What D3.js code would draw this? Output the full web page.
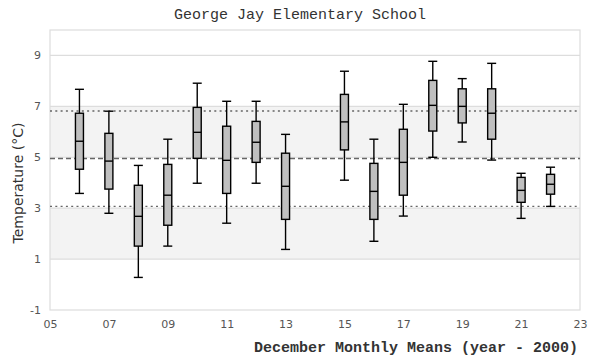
<!DOCTYPE html>
<html><head><meta charset="utf-8">
<script src="https://cdn.jsdelivr.net/npm/d3@7"></script>
<style>body{margin:0;background:#fff}</style>
</head><body><svg id="c" width="600" height="360"></svg>
<script>
const years    = [6, 7, 8, 9, 10, 11, 12, 13, 15, 16, 17, 18, 19, 20, 21, 22];
const whiskLow = [3.58, 2.80, 0.28, 1.51, 3.98, 2.41, 3.98, 1.38, 4.10, 1.70, 2.69, 5.00, 5.60, 4.89, 2.60, 3.07];
const q1       = [4.53, 3.75, 1.51, 2.33, 4.96, 3.58, 4.80, 2.56, 5.29, 2.56, 3.51, 6.03, 6.35, 5.71, 3.23, 3.55];
const medians  = [5.63, 4.85, 2.68, 3.51, 5.98, 4.88, 5.59, 3.86, 6.39, 3.66, 4.80, 7.04, 7.00, 6.73, 3.70, 3.94];
const q3       = [6.73, 5.94, 3.90, 4.72, 6.96, 6.22, 6.41, 5.16, 7.47, 4.76, 6.10, 8.02, 7.69, 7.69, 4.21, 4.33];
const whiskHigh= [7.67, 6.81, 4.68, 5.71, 7.91, 7.20, 7.20, 5.90, 8.38, 5.71, 7.08, 8.77, 8.09, 8.69, 4.37, 4.61];
const xTicks = [5, 7, 9, 11, 13, 15, 17, 19, 21, 23];
const yTicks = [-1, 1, 3, 5, 7, 9];
const bands = [[1, 3], [5, 7]];
const meanValue = 4.95;
const sdLines = [6.82, 3.07];

const svg = d3.select("#c");
const L = 50, R = 580, T = 30, B = 310;
const x = d3.scaleLinear().domain([5, 23]).range([L, R]);
const y = d3.scaleLinear().domain([-1, 10]).range([B, T]);

// bands
svg.append("g").selectAll("rect").data(bands).join("rect")
  .attr("x", L).attr("width", R - L)
  .attr("y", d => y(d[1])).attr("height", d => y(d[0]) - y(d[1]))
  .attr("fill", "#f3f3f3");

// grid
svg.append("g").selectAll("line").data(yTicks.filter(t => t > -1)).join("line")
  .attr("x1", L).attr("x2", R).attr("y1", d => y(d)).attr("y2", d => y(d))
  .attr("stroke", "#dddddd").attr("stroke-width", 1.2);

// border
svg.append("rect").attr("x", L).attr("y", T).attr("width", R - L).attr("height", B - T)
  .attr("fill", "none").attr("stroke", "#dddddd").attr("stroke-width", 1.2);

// reference lines
svg.append("line").attr("x1", L).attr("x2", R).attr("y1", y(meanValue)).attr("y2", y(meanValue))
  .attr("stroke", "#666").attr("stroke-width", 1.4).attr("stroke-dasharray", "5,3");
svg.append("g").selectAll("line").data(sdLines).join("line")
  .attr("x1", L).attr("x2", R).attr("y1", d => y(d)).attr("y2", d => y(d))
  .attr("stroke", "#666").attr("stroke-width", 1.4).attr("stroke-dasharray", "2,3.3");

// axes
const yAxis = d3.axisLeft(y).tickValues(yTicks).tickSize(0).tickPadding(9).tickFormat(d => String(d));
const gy = svg.append("g").attr("transform", `translate(${L},0)`).call(yAxis);
const xAxis = d3.axisBottom(x).tickValues(xTicks).tickSize(0).tickPadding(10).tickFormat(d => String(d).padStart(2, "0"));
const gx = svg.append("g").attr("transform", `translate(0,${B})`).call(xAxis);
[gx, gy].forEach(g => {
  g.select(".domain").remove();
  g.selectAll("text").attr("fill", "#555").attr("font-family", "DejaVu Sans, sans-serif").attr("font-size", 11);
});

// boxes
const data = years.map((yr, i) => ({yr, lo: whiskLow[i], q1: q1[i], med: medians[i], q3: q3[i], hi: whiskHigh[i]}));
const bw = 8, cw = 9;
const g = svg.append("g").attr("stroke", "#000").attr("stroke-width", 1.4);
const bx = g.selectAll("g").data(data).join("g");
bx.append("line").attr("x1", d => x(d.yr)).attr("x2", d => x(d.yr))
  .attr("y1", d => y(d.hi)).attr("y2", d => y(d.lo));
bx.append("line").attr("x1", d => x(d.yr) - cw / 2).attr("x2", d => x(d.yr) + cw / 2)
  .attr("y1", d => y(d.hi)).attr("y2", d => y(d.hi));
bx.append("line").attr("x1", d => x(d.yr) - cw / 2).attr("x2", d => x(d.yr) + cw / 2)
  .attr("y1", d => y(d.lo)).attr("y2", d => y(d.lo));
bx.append("rect").attr("x", d => x(d.yr) - bw / 2).attr("width", bw)
  .attr("y", d => y(d.q3)).attr("height", d => y(d.q1) - y(d.q3))
  .attr("fill", "#bfbfbf");
bx.append("line").attr("x1", d => x(d.yr) - bw / 2).attr("x2", d => x(d.yr) + bw / 2)
  .attr("y1", d => y(d.med)).attr("y2", d => y(d.med));

// titles
svg.append("text").attr("x", 300).attr("y", 19).attr("text-anchor", "middle")
  .attr("font-family", "Liberation Mono, monospace").attr("font-size", 15).attr("fill", "#333")
  .text("George Jay Elementary School");
svg.append("text").attr("x", 578).attr("y", 352).attr("text-anchor", "end")
  .attr("font-family", "Liberation Mono, monospace").attr("font-size", 15).attr("font-weight", "bold").attr("fill", "#333")
  .text("December Monthly Means (year - 2000)");
svg.append("text").attr("transform", "translate(23,183) rotate(-90)").attr("text-anchor", "middle")
  .attr("font-family", "DejaVu Sans, sans-serif").attr("font-size", 14).attr("fill", "#333")
  .text("Temperature (°C)");
</script></body></html>
